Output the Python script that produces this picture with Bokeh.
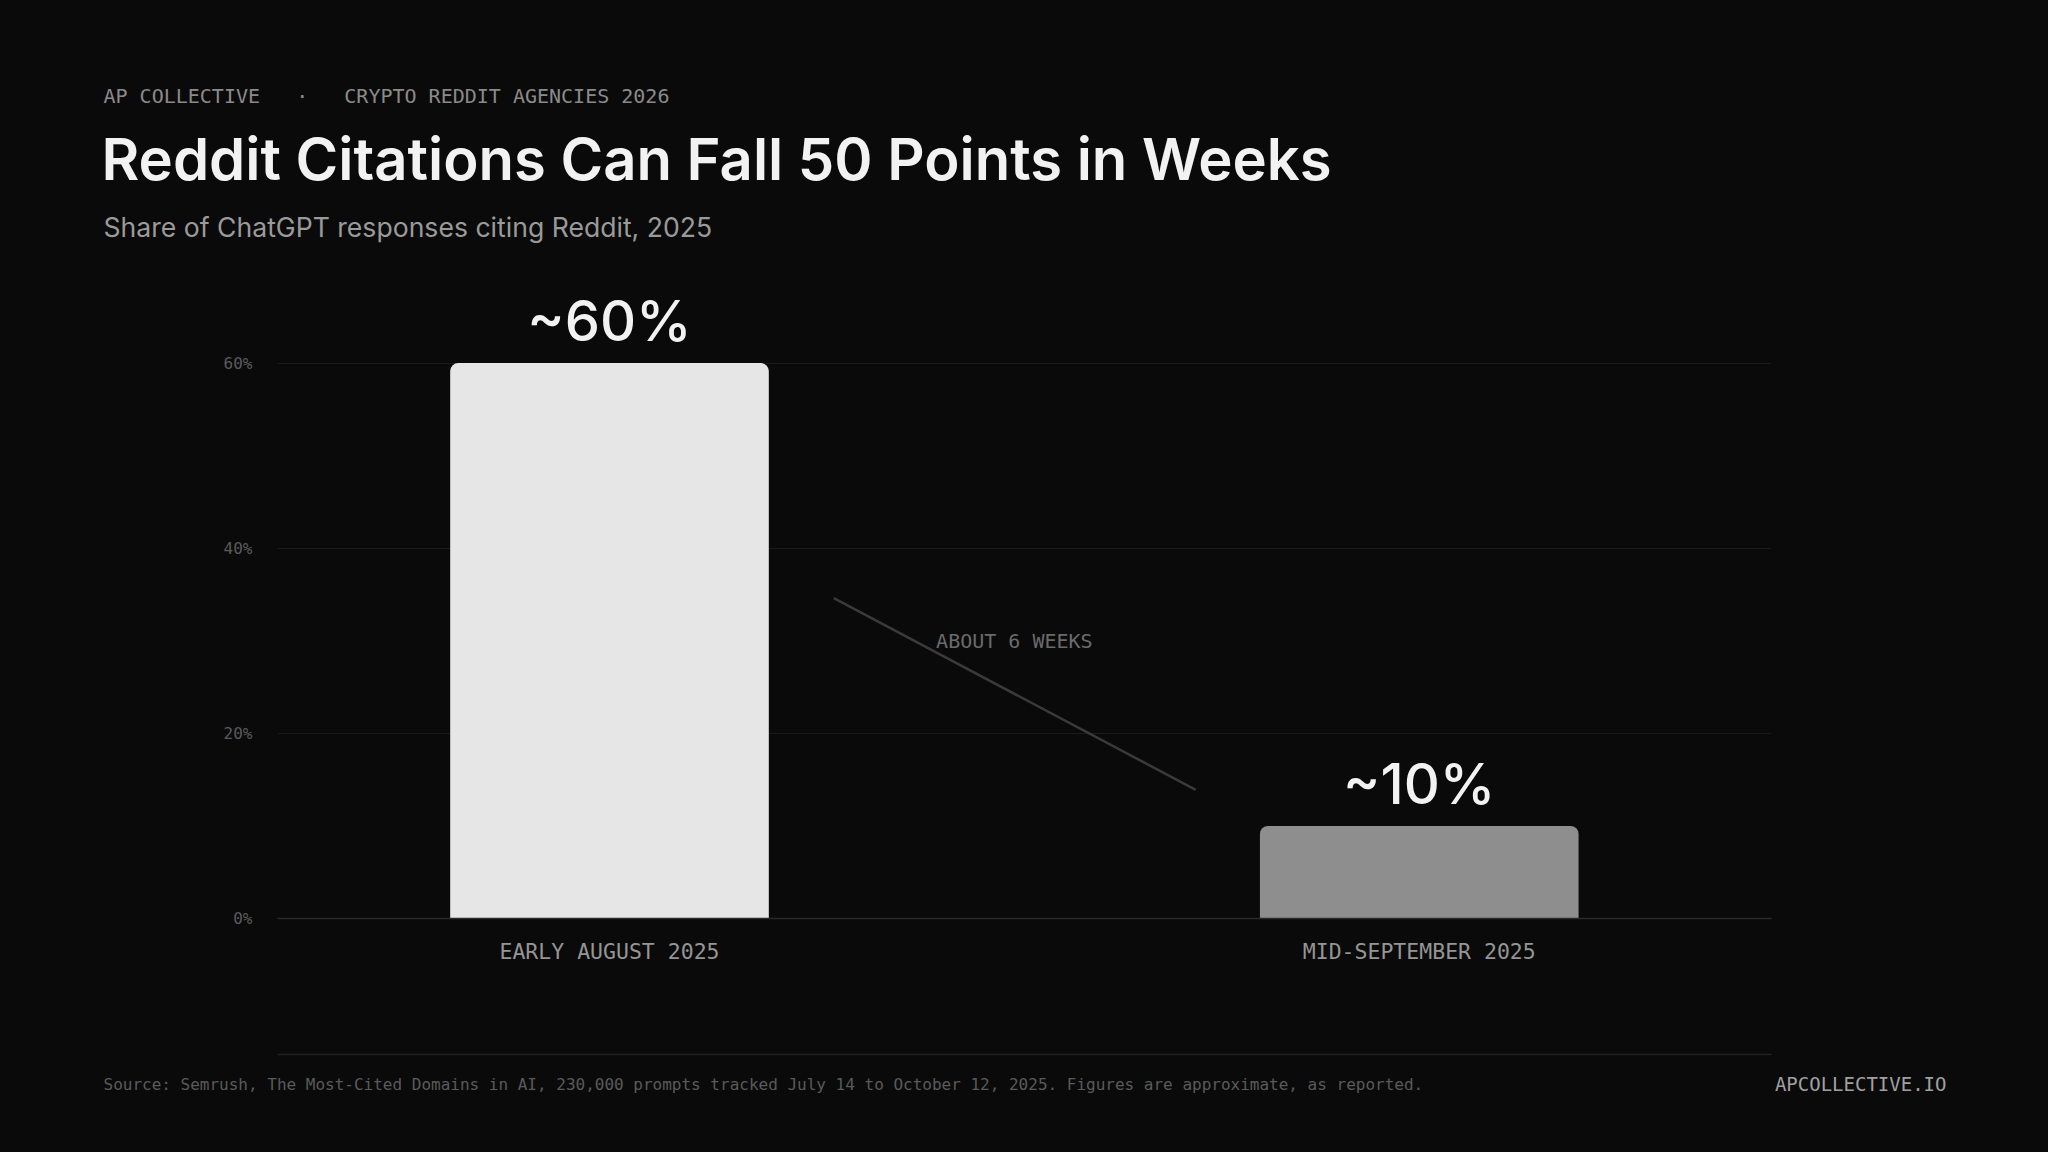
from bokeh.plotting import figure
from bokeh.models import Range1d, FixedTicker, ColumnDataSource, Title, LinearAxis
from bokeh.core.properties import value
from bokeh.embed import file_html
from bokeh.resources import INLINE

# ---------------- data ----------------
categories = ["EARLY AUGUST 2025", "MID-SEPTEMBER 2025"]
shares = [60, 10]
value_labels = ["~60%", "~10%"]
bar_colors = ["#e6e6e6", "#8e8e8e"]
y_ticks = [0, 20, 40, 60]
y_tick_labels = ["0%", "20%", "40%", "60%"]

header = "AP COLLECTIVE\u00a0\u00a0\u00a0·\u00a0\u00a0\u00a0CRYPTO REDDIT AGENCIES 2026"
title = "Reddit Citations Can Fall 50 Points in Weeks"
subtitle = "Share of ChatGPT responses citing Reddit, 2025"
annot_text = "ABOUT 6 WEEKS"
source = ("Source: Semrush, The Most-Cited Domains in AI, 230,000 prompts tracked "
          "July 14 to October 12, 2025. Figures are approximate, as reported.")
brand = "APCOLLECTIVE.IO"

# annotation connector (annotation space, not data)
annot_line_x = [0.277, 0.724]
annot_line_y = [34.6, 13.9]
annot_label_pos = (0.50, 30)

BG = "#0a0a0a"
MONO = "DejaVu Sans Mono"
W, H = 2048, 1152
FL, FR = 277, 1771   # frame left / right in page pixels

p = figure(width=W, height=H, output_backend="svg", toolbar_location=None,
           x_range=Range1d(-0.41, 1.435), y_range=Range1d(0, 70),
           min_border_left=FL, min_border_right=W - FR,
           min_border_top=270, min_border_bottom=234,
           background_fill_color=BG, border_fill_color=BG, outline_line_color=None)
p.extra_x_ranges = {"page": Range1d(FL, FR)}

idx = list(range(len(categories)))
src = ColumnDataSource(dict(x=idx, top=shares, color=bar_colors, lab=value_labels))

p.vbar(x="x", top="top", bottom=0, width=0.3935, fill_color="color", line_color=None,
       border_radius=(8, 8, 0, 0), source=src)

p.text(x="x", y="top", text="lab", source=src, text_align="center",
       text_baseline="alphabetic", y_offset=-42, text_font=value("Inter Medium"),
       text_font_size="56px", text_color="#f2f2f2")

p.line(annot_line_x, annot_line_y, line_color="#3a3a3a", line_width=2.5)
p.text(x=[annot_label_pos[0]], y=[annot_label_pos[1]], text=[annot_text],
       text_align="center", text_baseline="middle", text_font=value(MONO),
       text_font_size="20px", text_color="#6a6a6a")

# ---- main axes ----
p.xaxis.ticker = FixedTicker(ticks=idx)
p.xaxis.major_label_overrides = {i: c for i, c in zip(idx, categories)}
p.xaxis.axis_line_color = "#2a2a2a"
p.xaxis.axis_line_width = 1.5
p.xaxis.major_tick_line_color = None
p.xaxis.minor_tick_line_color = None
p.xaxis.major_tick_out = 0
p.xaxis.major_tick_in = 0
p.xaxis.minor_tick_out = 0
p.xaxis.minor_tick_in = 0
p.xaxis.major_label_standoff = 20
p.xaxis.major_label_text_font = MONO
p.xaxis.major_label_text_font_size = "21.5px"
p.xaxis.major_label_text_color = "#959595"

p.yaxis.ticker = FixedTicker(ticks=y_ticks)
p.yaxis.major_label_overrides = {t: l for t, l in zip(y_ticks, y_tick_labels)}
p.yaxis.axis_line_color = None
p.yaxis.major_tick_line_color = None
p.yaxis.minor_tick_line_color = None
p.yaxis.major_tick_out = 0
p.yaxis.major_tick_in = 0
p.yaxis.major_label_standoff = 25
p.yaxis.major_label_text_font = MONO
p.yaxis.major_label_text_font_size = "16px"
p.yaxis.major_label_text_color = "#5a5a5a"

p.xgrid.grid_line_color = None
p.ygrid.grid_line_color = "#1a1a1a"
p.ygrid.grid_line_width = 1


def ttl(text, font, size, color, standoff, offset, align="left"):
    return Title(text=text, text_font=font, text_font_size=size, text_color=color,
                 text_font_style="normal", standoff=standoff, offset=offset,
                 align=align, vertical_align="bottom")


# ---- above: first added sits closest to the frame ----
p.add_layout(ttl(subtitle, "Inter", "26.6px", "#9a9a9a", 55, 103 - FL), "above")
p.add_layout(ttl(title, "Inter SemiBold", "58px", "#f2f2f2", -24, 101 - FL), "above")
p.add_layout(ttl(header, MONO, "20px", "#8a8a8a", 52, 103 - FL), "above")

# ---- below ----
# invisible spacer (one tick, no drawn tick or label) to drop the rule to the footer
p.add_layout(LinearAxis(x_range_name="page", ticker=FixedTicker(ticks=[1000]),
                        major_label_overrides={1000: ""}, axis_line_color=None,
                        major_tick_out=88, major_tick_in=0, minor_tick_out=0,
                        minor_tick_in=0, major_tick_line_color=None,
                        minor_tick_line_color=None, major_label_standoff=0,
                        major_label_text_font_size="1px",
                        major_label_text_alpha=0), "below")
# footer rule
p.add_layout(LinearAxis(x_range_name="page", ticker=FixedTicker(ticks=[]),
                        axis_line_color="#222222", axis_line_width=1.5,
                        bounds=(103, 1946), major_tick_out=0, major_tick_in=0,
                        minor_tick_out=0, minor_tick_in=0, major_label_standoff=0,
                        major_tick_line_color=None, minor_tick_line_color=None), "below")
p.add_layout(ttl(source, MONO, "16px", "#5a5a5a", -79.6, 103 - FL), "below")
p.add_layout(ttl(brand, MONO, "19px", "#a0a0a0", -80.4, -(1946 - FR), align="right"), "below")

html = file_html(p, INLINE)
html = html.replace("</head>", "<style>html,body{background:#0a0a0a;margin:0;}</style></head>")
open("out.html", "w").write(html)
